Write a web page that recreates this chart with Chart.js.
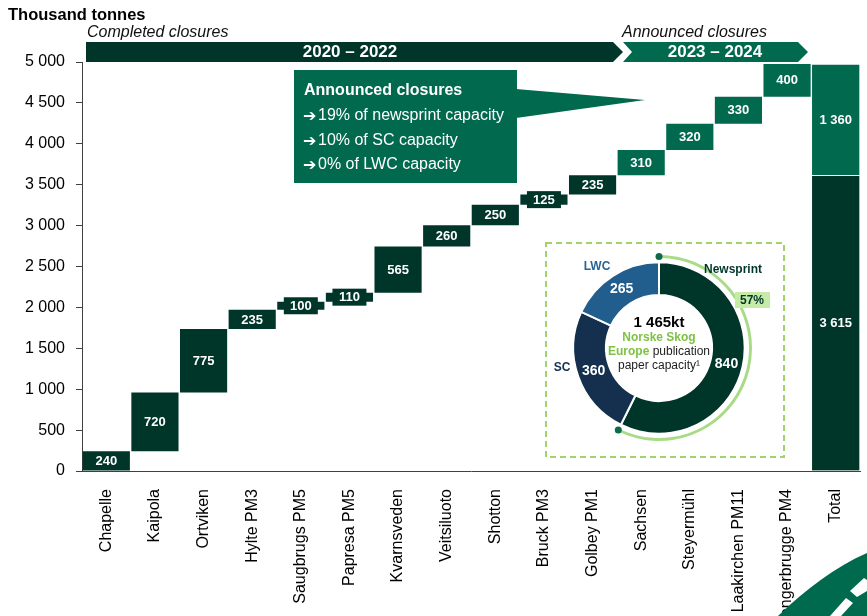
<!DOCTYPE html>
<html>
<head>
<meta charset="utf-8">
<script src="https://cdn.jsdelivr.net/npm/chart.js@4.4.1/dist/chart.umd.min.js"></script>
<style>
    html, body { margin: 0; padding: 0; background: #fff; }
    #wrap { position: relative; width: 867px; height: 616px; overflow: hidden; }
    #mainChart { position: absolute; left: 0; top: 0; }
    #donutChart { position: absolute; left: 542px; top: 239px; }
    #swoosh { position: absolute; left: 0; top: 0; pointer-events: none; }
</style>
</head>
<body>
<div id="wrap">
    <canvas id="mainChart" width="867" height="616"></canvas>
    <canvas id="donutChart" width="246" height="222"></canvas>
    <svg id="swoosh" width="867" height="616">
        <path d="M778 616 C 806 589, 835 567, 867 553 L867 616 Z" fill="#006A4E"/>
        <path d="M830 616 L846 598 L853 603 L841 616 Z" fill="#fff"/>
        <path d="M850 591 L864 578 L867 580 L867 591 L857 597 Z" fill="#fff"/>
    </svg>
</div>
<script>
// Closures data (thousand tonnes)
const categories = ['Chapelle', 'Kaipola', 'Ortviken', 'Hylte PM3', 'Saugbrugs PM5', 'Papresa PM5',
    'Kvarnsveden', 'Veitsiluoto', 'Shotton', 'Bruck PM3', 'Golbey PM1',
    'Sachsen', 'Steyermühl', 'Laakirchen PM11', 'Langerbrugge PM4', 'Total'];
const closures = [240, 720, 775, 235, 100, 110, 565, 260, 250, 125, 235, 310, 320, 330, 400];
const completedCount = 11;
const yMax = 5000;
const yStep = 500;

// Inset donut data
const capacityLabels = ['Newsprint', 'SC', 'LWC'];
const capacityValues = [840, 360, 265];
const capacityColors = ['#00362A', '#14304E', '#215E8E'];

const FONT = '"Liberation Sans", Arial, sans-serif';
const DARK = '#00362A';
const GREEN = '#00694E';

function fmt(n) {
    return String(n).replace(/\B(?=(\d{3})+(?!\d))/g, ' ');
}

// Build waterfall ranges
const completedData = [];
const announcedData = [];
let running = 0;
closures.forEach((v, i) => {
    const range = [running, running + v];
    running += v;
    completedData.push(i < completedCount ? range : null);
    announcedData.push(i >= completedCount ? range : null);
});
completedData.push(null);
announcedData.push(null);
const completedSum = closures.slice(0, completedCount).reduce((a, b) => a + b, 0);
const totalLow = categories.map((c, i) => i === categories.length - 1 ? [0, completedSum] : null);
const totalHigh = categories.map((c, i) => i === categories.length - 1 ? [completedSum, running] : null);

// Value labels inside bars
const barLabels = {
    id: 'barLabels',
    afterDatasetsDraw(chart) {
        const ctx = chart.ctx;
        ctx.save();
        ctx.font = 'bold 13px ' + FONT;
        ctx.textAlign = 'center';
        ctx.textBaseline = 'middle';
        chart.data.datasets.forEach((ds, di) => {
            chart.getDatasetMeta(di).data.forEach((bar, i) => {
                const v = ds.data[i];
                if (!v) return;
                const top = Math.min(bar.y, bar.base);
                const bottom = Math.max(bar.y, bar.base);
                const cy = (top + bottom) / 2;
                if (bottom - top < 17) {
                    ctx.fillStyle = ds.backgroundColor;
                    ctx.fillRect(bar.x - 17, cy - 8.5, 34, 17);
                }
                ctx.fillStyle = '#fff';
                ctx.fillText(fmt(v[1] - v[0]), bar.x, cy + 0.5);
            });
        });
        ctx.restore();
    }
};

// Title, period banners and callout box
const decorations = {
    id: 'decorations',
    afterDraw(chart) {
        const ctx = chart.ctx;
        ctx.save();
        ctx.fillStyle = '#000';
        ctx.textBaseline = 'middle';
        ctx.textAlign = 'left';
        ctx.font = 'bold 16.5px ' + FONT;
        ctx.fillText('Thousand tonnes', 8, 15);
        ctx.fillStyle = '#111';
        ctx.font = 'italic 16px ' + FONT;
        ctx.fillText('Completed closures', 87, 33);
        ctx.fillText('Announced closures', 622, 33);

        // banners
        ctx.fillStyle = DARK;
        ctx.beginPath();
        ctx.moveTo(86, 42); ctx.lineTo(613, 42); ctx.lineTo(623, 52);
        ctx.lineTo(613, 62); ctx.lineTo(86, 62); ctx.closePath();
        ctx.fill();
        ctx.fillStyle = GREEN;
        ctx.beginPath();
        ctx.moveTo(623, 42); ctx.lineTo(798, 42); ctx.lineTo(808, 52);
        ctx.lineTo(798, 62); ctx.lineTo(623, 62); ctx.lineTo(632, 52); ctx.closePath();
        ctx.fill();
        ctx.fillStyle = '#fff';
        ctx.font = 'bold 17px ' + FONT;
        ctx.textAlign = 'center';
        ctx.fillText('2020 – 2022', 350, 52.5);
        ctx.fillText('2023 – 2024', 715, 52.5);

        // callout
        ctx.fillStyle = GREEN;
        ctx.fillRect(294, 70, 223, 113);
        ctx.beginPath();
        ctx.moveTo(516, 89); ctx.lineTo(645, 100); ctx.lineTo(516, 118); ctx.closePath();
        ctx.fill();
        ctx.fillStyle = '#fff';
        ctx.textAlign = 'left';
        ctx.font = 'bold 16px ' + FONT;
        ctx.fillText('Announced closures', 304, 91);
        const lines = ['19% of newsprint capacity', '10% of SC capacity', '0% of LWC capacity'];
        lines.forEach((t, i) => {
            const y = 116 + i * 24.5;
            ctx.font = 'bold 16px "DejaVu Sans", sans-serif';
            ctx.fillText('➔', 303, y + 1);
            ctx.font = '16px ' + FONT;
            ctx.fillText(t, 318, y);
        });
        ctx.restore();
    }
};

new Chart(document.getElementById('mainChart'), {
    type: 'bar',
    data: {
        labels: categories,
        datasets: [
            { data: completedData, backgroundColor: DARK, grouped: false, categoryPercentage: 1, barPercentage: 0.97 },
            { data: announcedData, backgroundColor: GREEN, grouped: false, categoryPercentage: 1, barPercentage: 0.97 },
            { data: totalLow, backgroundColor: DARK, borderColor: '#fff', borderWidth: 1, grouped: false, categoryPercentage: 1, barPercentage: 1 },
            { data: totalHigh, backgroundColor: GREEN, borderColor: '#fff', borderWidth: 1, grouped: false, categoryPercentage: 1, barPercentage: 1 }
        ]
    },
    options: {
        responsive: false,
        animation: false,
        events: [],
        layout: { padding: { top: 62, right: 7, left: 0, bottom: 0 } },
        plugins: { legend: { display: false }, tooltip: { enabled: false } },
        scales: {
            x: {
                grid: { display: false },
                border: { display: true, color: '#404040' },
                ticks: {
                    autoSkip: false, maxRotation: 90, minRotation: 90, padding: 10,
                    color: '#000', font: { size: 16, family: FONT }
                },
                afterFit(s) { s.height = 145; }
            },
            y: {
                min: 0,
                max: yMax,
                ticks: {
                    stepSize: yStep, padding: 11, color: '#000',
                    font: { size: 16, family: FONT },
                    callback: v => fmt(v)
                },
                grid: { drawOnChartArea: false, tickLength: 6, color: '#404040' },
                border: { color: '#404040' },
                afterFit(s) { s.width = 82; }
            }
        }
    },
    plugins: [barLabels, decorations]
});

// Inset donut decorations
const donutDecor = {
    id: 'donutDecor',
    beforeDraw(chart) {
        const ctx = chart.ctx;
        ctx.save();
        ctx.strokeStyle = '#9ED46A';
        ctx.lineWidth = 2;
        ctx.setLineDash([6, 4]);
        ctx.strokeRect(4, 4, 238, 214);
        ctx.restore();
    },
    afterDraw(chart) {
        const ctx = chart.ctx;
        ctx.save();
        const arc = chart.getDatasetMeta(0).data[0];
        const r = (arc.innerRadius + arc.outerRadius) / 2;
        ctx.fillStyle = '#0B6B4A';
        [arc.startAngle, arc.endAngle].forEach(a => {
            ctx.beginPath();
            ctx.arc(arc.x + r * Math.cos(a), arc.y + r * Math.sin(a), 3.5, 0, Math.PI * 2);
            ctx.fill();
        });
        const cx = arc.x, cy = arc.y;

        // values in ring
        ctx.textAlign = 'center';
        ctx.textBaseline = 'middle';
        ctx.fillStyle = '#fff';
        ctx.font = 'bold 14px ' + FONT;
        chart.getDatasetMeta(2).data.forEach((el, i) => {
            const p = el.tooltipPosition();
            ctx.fillText(String(capacityValues[i]), p.x, p.y);
        });

        // outer labels
        ctx.font = 'bold 12px ' + FONT;
        ctx.fillStyle = '#00362A';
        ctx.fillText('Newsprint', cx + 74, cy - 78);
        ctx.fillStyle = '#2A6598';
        ctx.fillText('LWC', cx - 62, cy - 81);
        ctx.fillStyle = '#14304E';
        ctx.fillText('SC', cx - 97, cy + 20);
        const pct = Math.round(capacityValues[0] / capacityValues.reduce((a, b) => a + b, 0) * 100);
        ctx.fillStyle = '#C6EBA6';
        ctx.fillRect(cx + 76, cy - 56, 35, 16);
        ctx.fillStyle = '#00362A';
        ctx.fillText(pct + '%', cx + 93, cy - 47.5);

        // centre text
        ctx.fillStyle = '#000';
        ctx.font = 'bold 15px ' + FONT;
        ctx.fillText(fmt(capacityValues.reduce((a, b) => a + b, 0)) + 'kt', cx, cy - 25);
        ctx.fillStyle = '#7DC242';
        ctx.font = 'bold 12px ' + FONT;
        ctx.fillText('Norske Skog', cx, cy - 10);
        const w1 = ctx.measureText('Europe ').width;
        ctx.font = '12px ' + FONT;
        const w2 = ctx.measureText('publication').width;
        const x0 = cx - (w1 + w2) / 2;
        ctx.textAlign = 'left';
        ctx.font = 'bold 12px ' + FONT;
        ctx.fillText('Europe ', x0, cy + 4);
        ctx.fillStyle = '#222';
        ctx.font = '12px ' + FONT;
        ctx.fillText('publication', x0 + w1, cy + 4);
        ctx.textAlign = 'center';
        ctx.fillText('paper capacity¹', cx, cy + 18);
        ctx.restore();
    }
};

const capacityTotal = capacityValues.reduce((a, b) => a + b, 0);
new Chart(document.getElementById('donutChart'), {
    type: 'doughnut',
    data: {
        labels: capacityLabels,
        datasets: [
            { data: [capacityValues[0], capacityTotal - capacityValues[0]], backgroundColor: ['#A8DB85', 'rgba(0,0,0,0)'], borderWidth: 0, weight: 3 },
            { data: [capacityTotal], backgroundColor: ['rgba(0,0,0,0)'], borderWidth: 0, weight: 4.5 },
            { data: capacityValues, backgroundColor: capacityColors, borderColor: '#fff', borderWidth: 2, weight: 33.5 }
        ]
    },
    options: {
        responsive: false,
        animation: false,
        events: [],
        cutout: '57%',
        layout: { padding: { left: 3, right: 15, top: 16, bottom: 20 } },
        plugins: { legend: { display: false }, tooltip: { enabled: false } }
    },
    plugins: [donutDecor]
});
</script>
</body>
</html>
